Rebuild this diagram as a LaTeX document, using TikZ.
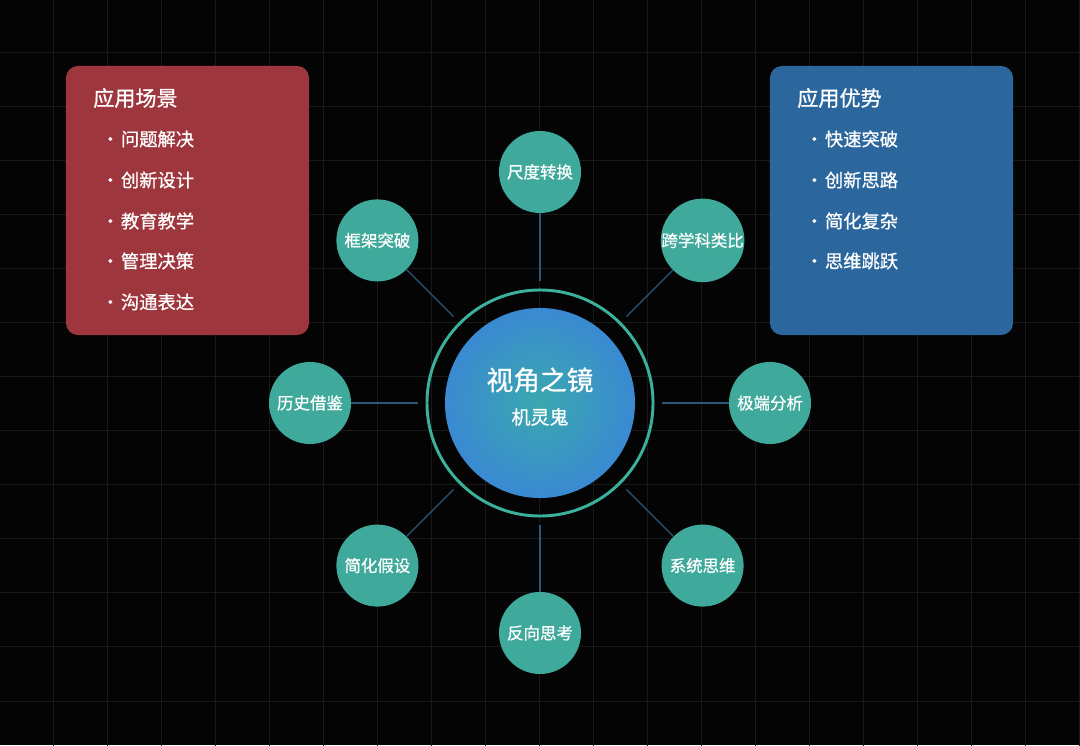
\documentclass[tikz,border=0pt]{standalone}
\usepackage{fontspec}
\setmainfont{Noto Sans CJK SC}
\newfontfamily\medfont{Noto Sans CJK SC}[FakeBold=0.8]
\usepackage{tikz}
\usetikzlibrary{positioning}
\definecolor{vbg}{HTML}{040404}
\definecolor{vgrid}{HTML}{191919}
\definecolor{vteal}{HTML}{3FA99B}
\definecolor{vring}{HTML}{3BB09A}
\definecolor{vspoke}{HTML}{2B5878}
\definecolor{vred}{HTML}{A3383F}
\definecolor{vblue}{HTML}{2B679C}
\definecolor{vhubcore}{HTML}{3AA8AE}
\definecolor{vhubedge}{HTML}{3A8AD2}

\begin{document}
\begin{tikzpicture}[
    x=0.025cm, y=0.025cm,
    facet/.style={circle, fill=vteal, minimum size=2.05cm, inner sep=0pt, text=white, font=\medfont\fontsize{11.7}{14}\selectfont},
    spoke/.style={vspoke, line width=0.9pt},
    panel/.style={rectangle, rounded corners=8.5pt, minimum width=6.075cm, minimum height=6.725cm, inner sep=0pt},
    heading/.style={anchor=west, text=white, inner sep=0pt, font=\medfont\fontsize{15}{18}\selectfont},
    entry/.style={anchor=west, text=white, inner sep=0pt, font=\medfont\fontsize{13}{16}\selectfont}
]
    % Background and grid
    \fill[vbg] (0,0) rectangle (1080,745);
    \useasboundingbox (0,0) rectangle (1080,745);
    \begin{scope}
        \clip (0,0) rectangle (1080,745);
        \draw[vgrid, line width=0.7pt, shift={(-1,44)}, step=1.35cm] (0,-60) grid (1100,760);
    \end{scope}

    % Side panels
    \node[panel, fill=vred, fill opacity=0.97] (scenes) at (187.5,544.5) {};
    \node[panel, fill=vblue] (gains) at (891.5,544.5) {};

    \node[heading] (scenetitle) at (93,647) {应用场景};
    \node[entry] (s1) at (101,606) {•\kern1pt 问题解决};
    \node[entry] (s2) at (101,565) {•\kern1pt 创新设计};
    \node[entry] (s3) at (101,524) {•\kern1pt 教育教学};
    \node[entry] (s4) at (101,484) {•\kern1pt 管理决策};
    \node[entry] (s5) at (101,443) {•\kern1pt 沟通表达};

    \node[heading] (gaintitle) at (797,647) {应用优势};
    \node[entry] (g1) at (805,606) {•\kern1pt 快速突破};
    \node[entry] (g2) at (805,565) {•\kern1pt 创新思路};
    \node[entry] (g3) at (805,524) {•\kern1pt 简化复杂};
    \node[entry] (g4) at (805,484) {•\kern1pt 思维跳跃};

    % Hub
    \node[circle, draw=none, minimum size=6.1cm] (halo) at (540,342) {};
    \node[circle, draw=vring, line width=2.1pt, minimum size=5.65cm] (ring) at (540,342) {};
    \node[circle, shading=radial, inner color=vhubcore, outer color=vhubedge, minimum size=4.75cm] (hub) at (540,342) {};
    \node[text=white, font=\medfont\fontsize{19}{22}\selectfont] (hubname) at (540,365) {视角之镜};
    \node[text=white, font=\medfont\fontsize{13.5}{16}\selectfont] (hubauthor) at (540,328) {机灵鬼};

    % Satellites
    \node[facet] (scale) at (540,573) {尺度转换};
    \node[facet] (analogy) at (702.6,504.6) {跨学科类比};
    \node[facet] (extreme) at (770,342) {极端分析};
    \node[facet] (system) at (702.6,179.4) {系统思维};
    \node[facet] (reverse) at (540,112) {反向思考};
    \node[facet] (simplify) at (377.4,179.4) {简化假设};
    \node[facet] (history) at (310,342) {历史借鉴};
    \node[facet] (frame) at (377.4,504.6) {框架突破};

    % Spokes
    \draw[spoke] (halo) -- (scale);
    \draw[spoke] (halo) -- (analogy);
    \draw[spoke] (halo) -- (extreme);
    \draw[spoke] (halo) -- (system);
    \draw[spoke] (halo) -- (reverse);
    \draw[spoke] (halo) -- (simplify);
    \draw[spoke] (halo) -- (history);
    \draw[spoke] (halo) -- (frame);

\end{tikzpicture}
\end{document}
